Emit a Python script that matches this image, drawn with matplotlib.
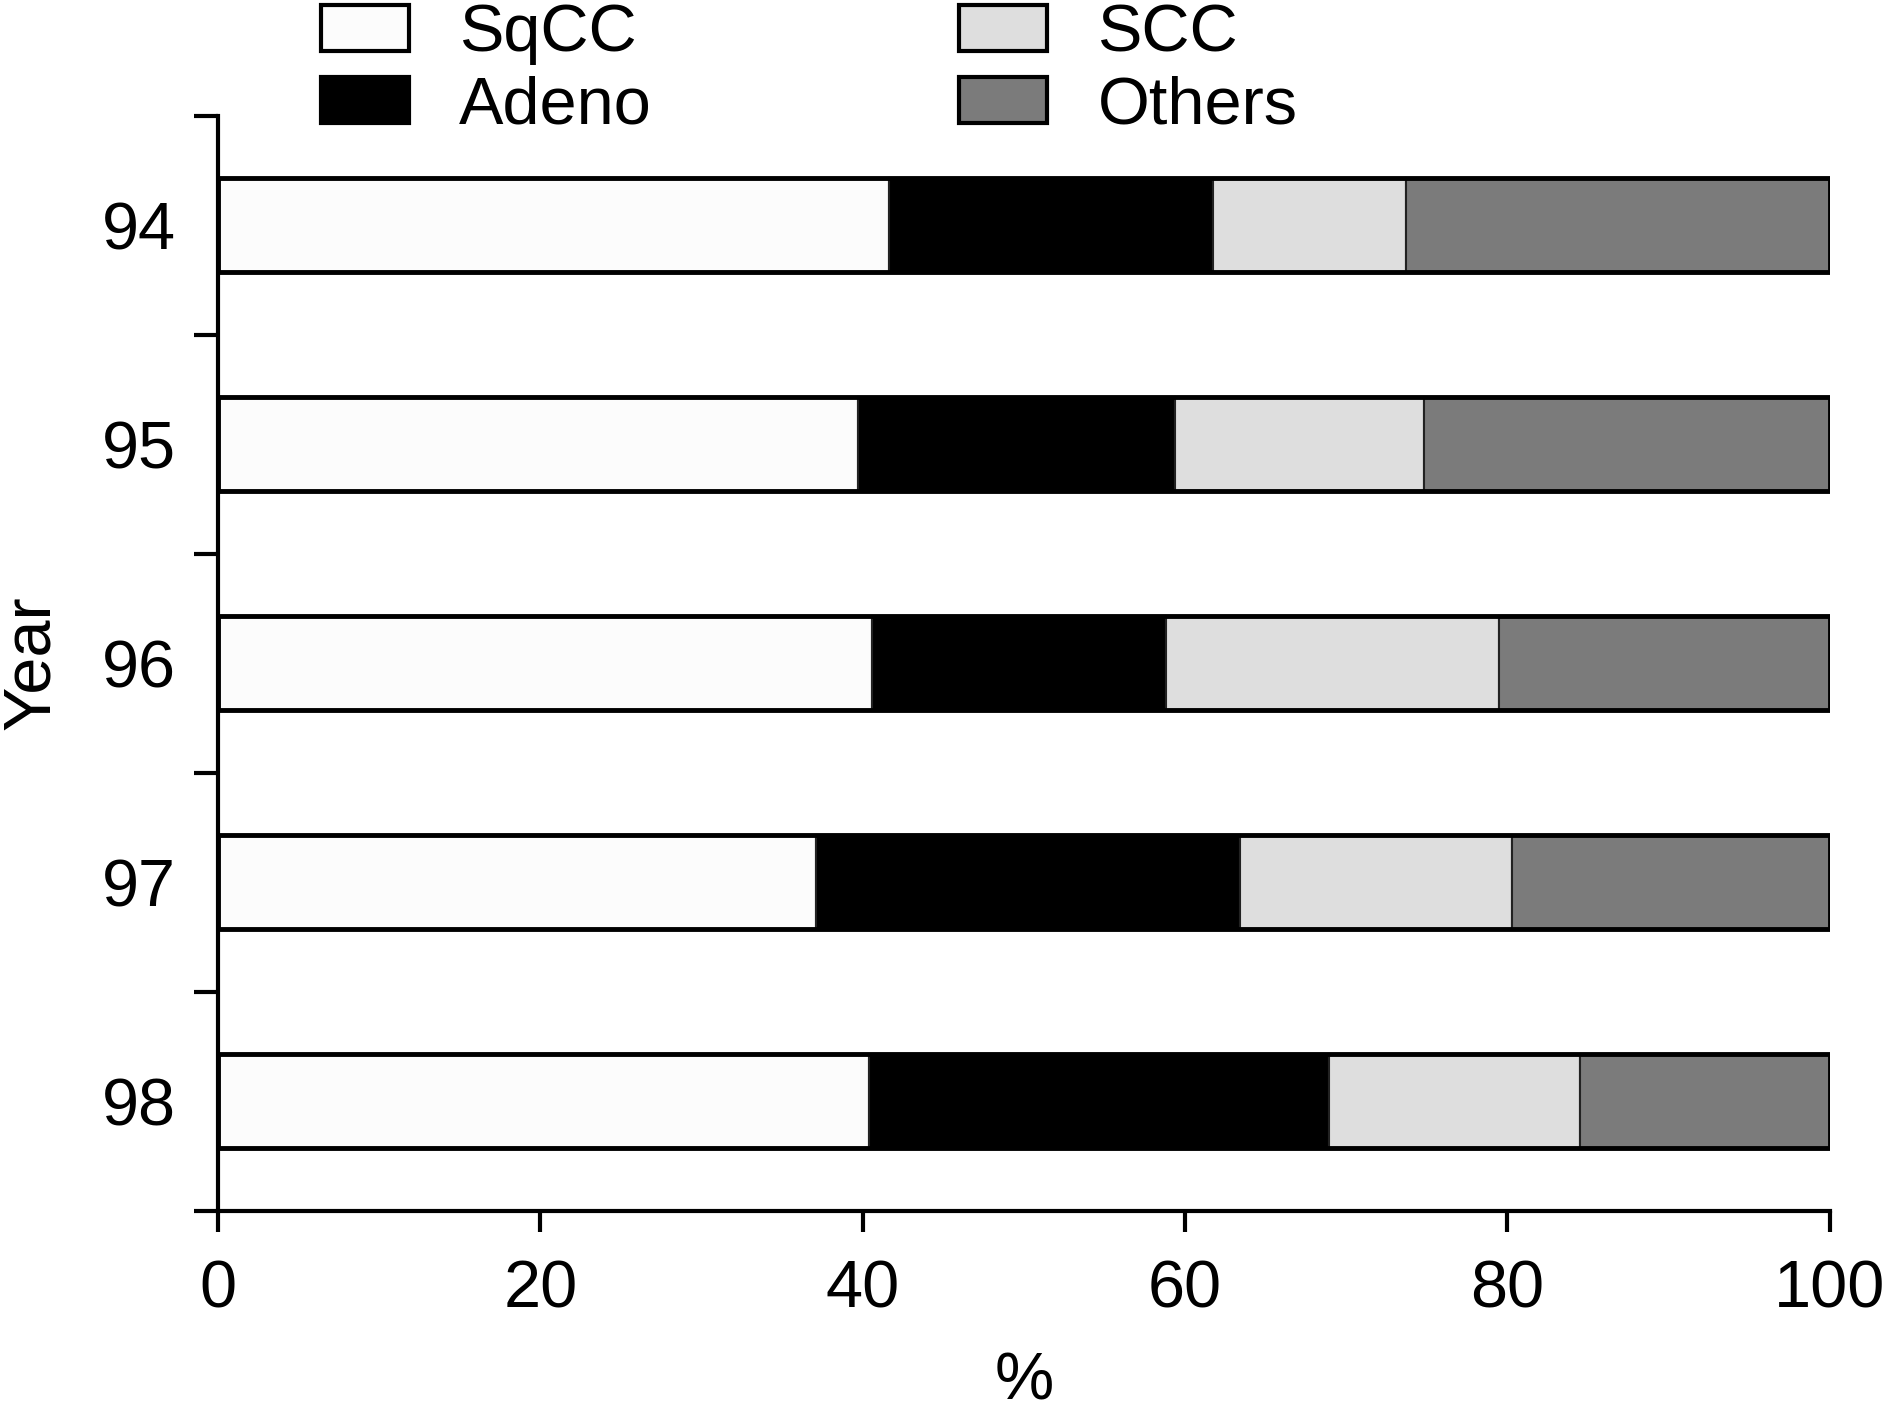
import numpy as np
import matplotlib
matplotlib.use("Agg")
from matplotlib import pyplot as plt

# percentages per year
years = ['94', '95', '96', '97', '98']
sqcc = [41.6, 39.7, 40.6, 37.1, 40.4]
adeno = [20.1, 19.7, 18.2, 26.3, 28.5]
scc = [12.0, 15.4, 20.7, 16.9, 15.6]
others = [26.3, 25.2, 20.5, 19.7, 15.5]

names = ['SqCC', 'Adeno', 'SCC', 'Others']
colors = ['#fcfcfc', '#000000', '#dedede', '#7b7b7b']

plt.rcParams['font.family'] = ['Liberation Sans', 'DejaVu Sans']

fig = plt.figure(figsize=(18.89, 14.13), dpi=100)
ax = fig.add_axes([0.1154, 0.1432, 0.8533, 0.775])

pos = np.arange(len(years))
h = 0.43
left = np.zeros(len(years))
handles = []
for vals, name, c in zip([sqcc, adeno, scc, others], names, colors):
    b = ax.barh(pos, vals, left=left, height=h, color=c, edgecolor='#222222',
                linewidth=1.5, label=name)
    handles.append(b)
    left = left + np.array(vals)
# thick outline around each whole bar
ax.barh(pos, left, height=h, fill=False, edgecolor='black', linewidth=3.5)

ax.set_xlim(0, 100)
ax.set_ylim(4.5, -0.5)
ax.set_xticks([0, 20, 40, 60, 80, 100])
ax.set_yticks(pos)
ax.set_yticklabels(years)
ax.set_yticks(np.arange(-0.5, 5, 1), minor=True)
ax.tick_params(axis='y', which='major', length=0, pad=30, labelsize=48)
ax.tick_params(axis='y', which='minor', length=17, width=3)
ax.tick_params(axis='x', length=15, width=3, pad=20, labelsize=48)

for s in ['top', 'right']:
    ax.spines[s].set_visible(False)
for s in ['left', 'bottom']:
    ax.spines[s].set_linewidth(3)

ax.set_xlabel('%', fontsize=48, labelpad=22)
ax.set_ylabel('Year', fontsize=48, labelpad=28)

leg = fig.legend(handles=handles, labels=names, ncol=2, loc='upper left',
                 bbox_to_anchor=(0.138, 1.040), frameon=False, fontsize=48,
                 handlelength=1.33, handleheight=0.7, handletextpad=0.75,
                 columnspacing=4.6, labelspacing=0.15)
for p in leg.get_patches():
    p.set_linewidth(3)
    p.set_edgecolor('black')

fig.savefig('out.png', dpi=100)
